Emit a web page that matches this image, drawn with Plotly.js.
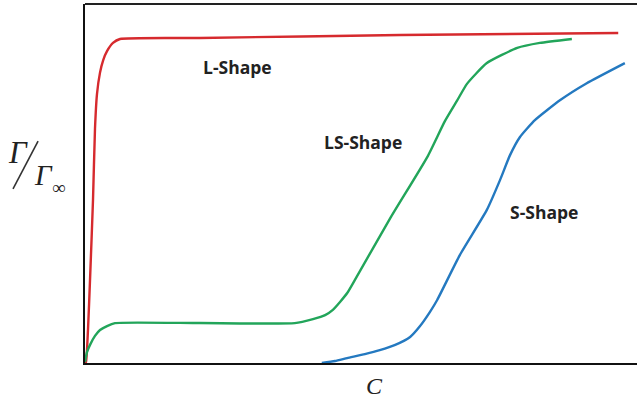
<!DOCTYPE html>
<html>
<head>
<meta charset="utf-8">
<script src="https://cdn.plot.ly/plotly-3.0.1.min.js"></script>
<style>html,body{margin:0;padding:0;background:#fff;}#chart{width:637px;height:404px;}</style>
</head>
<body>
<div id="chart"></div>
<script>
// Concentration C (relative units) and Γ/Γ∞ (percent of plateau)
const lShapeC = [0, 0.18, 0.54, 0.91, 1.45, 1.81, 2.17, 2.72, 3.3, 3.99, 5.07, 6.34, 20.8, 57.1, 96.6];
const lShapeG = [0, 0.3, 10, 25.2, 49.4, 71.0, 81.5, 88.0, 91.8, 94.5, 97.0, 98.2, 98.5, 99.4, 100];

const lsShapeC = [0, 0.36, 0.91, 1.81, 2.72, 3.99, 5.43, 20.8, 38.0, 41.3, 43.5, 44.9, 46.2, 47.5, 48.9, 55.3, 62.0, 65.2, 67.4, 69.2, 72.8, 78.3, 82.4, 88.2];
const lsShapeG = [0.3, 3.3, 5.5, 8.2, 10, 11.2, 12.1, 12.1, 12.1, 13.3, 14.5, 16.1, 18.5, 21.2, 25.2, 43.9, 62.4, 73.3, 79.5, 84.6, 90.9, 95.5, 97.0, 98.2];

const sShapeC = [42.9, 45.3, 47.5, 50.7, 53.4, 56.2, 58.9, 60.7, 62.5, 63.8, 67.9, 72.8, 75.2, 77.0, 78.8, 81.5, 86.1, 90.9, 97.8];
const sShapeG = [0, 0.6, 1.5, 2.7, 3.9, 5.5, 7.9, 11.2, 15.5, 19.1, 32.7, 46.4, 55.5, 63.0, 68.5, 73.6, 79.7, 84.8, 90.9];

const seriesNames = ['L-Shape', 'LS-Shape', 'S-Shape'];
const labelC = [27.7, 50.4, 83.2];
const labelG = [89.7, 66.9, 45.8];

const traces = [
  {x: lShapeC, y: lShapeG, name: seriesNames[0], mode: 'lines', line: {color: '#d62a2e', width: 2.4, shape: 'spline', smoothing: 0.5}},
  {x: lsShapeC, y: lsShapeG, name: seriesNames[1], mode: 'lines', line: {color: '#22a55a', width: 2.4, shape: 'spline', smoothing: 0.5}},
  {x: sShapeC, y: sShapeG, name: seriesNames[2], mode: 'lines', line: {color: '#2479c0', width: 2.4, shape: 'spline', smoothing: 0.5}}
];

const labelFont = {family: 'Open Sans', size: 17.5, color: '#222'};
const serif = 'Liberation Serif';
const annotations = seriesNames.map((n, i) => ({
  x: labelC[i], y: labelG[i], xref: 'x', yref: 'y', text: '<b>' + n + '</b>',
  showarrow: false, font: labelFont, xanchor: 'center', yanchor: 'middle'
}));
annotations.push(
  {x: 0.525, y: -0.063, xref: 'paper', yref: 'paper', text: '<i>C</i>', showarrow: false,
   font: {family: serif, size: 24, color: '#222'}, xanchor: 'center', yanchor: 'middle'},
  {x: -0.1214, y: 0.585, xref: 'paper', yref: 'paper', text: '<i>Γ</i>', showarrow: false,
   font: {family: serif, size: 31, color: '#222'}, xanchor: 'center', yanchor: 'middle'},
  {x: -0.0743, y: 0.524, xref: 'paper', yref: 'paper', text: '<i>Γ</i>', showarrow: false,
   font: {family: serif, size: 29, color: '#222'}, xanchor: 'center', yanchor: 'middle'},
  {x: -0.0471, y: 0.49, xref: 'paper', yref: 'paper', text: '∞', showarrow: false,
   font: {family: serif, size: 19, color: '#222'}, xanchor: 'center', yanchor: 'middle'}
);

const layout = {
  width: 637, height: 404,
  margin: {l: 85, r: 0, t: 4, b: 41, pad: 0},
  paper_bgcolor: '#fff', plot_bgcolor: '#fff',
  showlegend: false,
  xaxis: {range: [0, 100], showgrid: false, zeroline: false, showticklabels: false, ticks: '',
          showline: true, linecolor: '#111', linewidth: 2},
  yaxis: {range: [0, 108.8], showgrid: false, zeroline: false, showticklabels: false, ticks: '',
          showline: true, linecolor: '#111', linewidth: 2},
  shapes: [
    {type: 'line', xref: 'paper', yref: 'paper', x0: 0, x1: 1, y0: 1, y1: 1, line: {color: '#222', width: 2}},
    {type: 'line', xref: 'paper', yref: 'paper', x0: -0.1304, y0: 0.485, x1: -0.085, y1: 0.618, line: {color: '#333', width: 1.6}}
  ],
  annotations: annotations
};

Plotly.newPlot('chart', traces, layout, {displayModeBar: false, staticPlot: true});
</script>
</body>
</html>
